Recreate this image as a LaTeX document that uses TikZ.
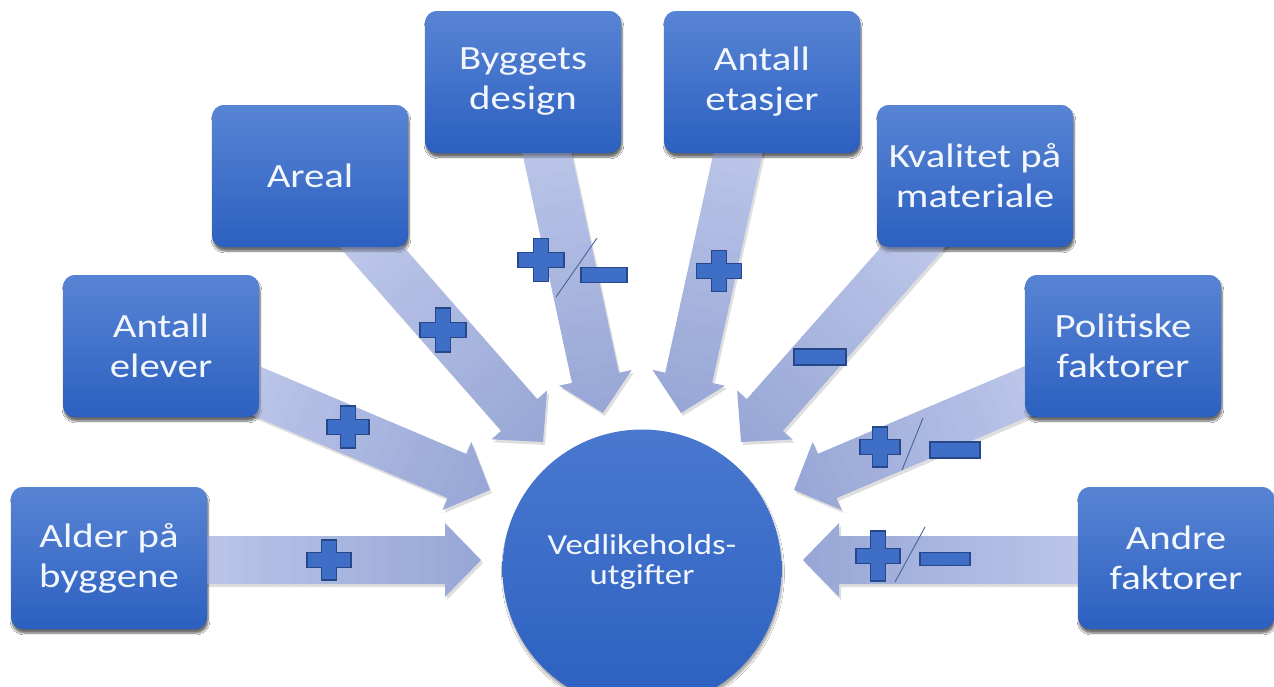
\documentclass[tikz,border=0pt]{standalone}
\usepackage{fontspec}
\setmainfont{Carlito}[FakeStretch=1.2]
\usetikzlibrary{calc,shadows.blur}

\definecolor{boxtop}{RGB}{88,132,212}
\definecolor{boxbot}{RGB}{44,96,192}
\definecolor{hubtop}{RGB}{74,120,207}
\definecolor{hubbot}{RGB}{44,96,192}
\definecolor{arrlight}{RGB}{190,200,234}
\definecolor{arrdark}{RGB}{150,165,213}
\definecolor{signfill}{RGB}{62,110,198}
\definecolor{signline}{RGB}{38,72,138}
\definecolor{txt}{RGB}{242,246,253}

\tikzset{
  factor/.style={rectangle, rounded corners=12pt, minimum width=196pt,
    minimum height=142pt, inner sep=0pt, top color=boxtop, bottom color=boxbot,
    text=txt, align=center, font=\fontsize{34}{40}\selectfont,
    blur shadow={shadow xshift=1pt, shadow yshift=-4pt, shadow blur steps=6, shadow opacity=35}},
  hub/.style={circle, minimum size=279pt, inner sep=0pt, top color=hubtop,
    bottom color=hubbot,
    blur shadow={shadow xshift=1pt, shadow yshift=-4pt, shadow blur steps=6, shadow opacity=35}},
  hubtext/.style={text=txt, align=center, font=\fontsize{29}{30}\selectfont},
  signshape/.style={fill=signfill, draw=signline, line width=1.2pt},
  slash/.style={draw=signline!85, line width=0.9pt}
}

% wide block arrow from a start coordinate to a tip coordinate,
% shaded from light (start) to darker (tip)
\newcommand\flowarrow[2]{%
  \path let \p1=(#1), \p2=(#2) in
    \pgfextra{%
      \pgfmathsetmacro\tmpang{atan2(\y2-\y1,\x2-\x1)}%
      \pgfmathsetmacro\tmplen{veclen(\x2-\x1,\y2-\y1)}%
      \xdef\arrang{\tmpang}\xdef\arrlen{\tmplen}};
  \begin{scope}[shift={($(#1)+(2,3)$)}, rotate=\arrang, x=1pt, y=1pt]
    \fill[black, opacity=0.13] (-40,-24) -- (\arrlen-36,-24) -- (\arrlen-36,-37)
      -- (\arrlen,0) -- (\arrlen-36,37) -- (\arrlen-36,24) -- (-40,24) -- cycle;
  \end{scope}
  \begin{scope}[shift={(#1)}, rotate=\arrang, x=1pt, y=1pt]
    \clip (-40,-24) -- (\arrlen-36,-24) -- (\arrlen-36,-37)
      -- (\arrlen,0) -- (\arrlen-36,37) -- (\arrlen-36,24) -- (-40,24) -- cycle;
    \foreach \i in {0,...,19}{%
      \pgfmathsetmacro\pct{100-\i*5}%
      \pgfmathsetmacro\xa{-40+(\arrlen+40)*\i/20}%
      \pgfmathsetmacro\xb{-40+(\arrlen+40)*(\i+1)/20+0.8}%
      \fill[arrlight!\pct!arrdark] (\xa,-40) rectangle (\xb,40);
    }
  \end{scope}}

% plus sign: centre, width, height
\newcommand\plusmark[3]{%
  \draw[signshape, shift={(#1)}]
    (-7.5,-#3/2) -- (7.5,-#3/2) -- (7.5,-7.5) -- (#2/2,-7.5) -- (#2/2,7.5)
    -- (7.5,7.5) -- (7.5,#3/2) -- (-7.5,#3/2) -- (-7.5,7.5) -- (-#2/2,7.5)
    -- (-#2/2,-7.5) -- (-7.5,-7.5) -- cycle;}
% minus sign: centre, width, height
\newcommand\minusmark[3]{%
  \draw[signshape, shift={(#1)}] (-#2/2,-#3/2) rectangle (#2/2,#3/2);}

\begin{document}
\begin{tikzpicture}[x=1pt, y=-1pt]
  \useasboundingbox (0,0) rectangle (1274,686);
  \clip (0,0) rectangle (1274,686);
  \fill[white] (0,0) rectangle (1274,686);

  % factor boxes (placed first so the arrows can refer to them)
  \path
    (109,558)  node[factor] (alder)    {Alder på\\byggene}
    (161,346)  node[factor] (elever)   {Antall\\elever}
    (310,176)  node[factor] (areal)    {Areal}
    (523,82)   node[factor] (design)   {Byggets\\design}
    (762,82)   node[factor] (etasjer)  {Antall\\etasjer}
    (975,176)  node[factor] (kvalitet) {Kvalitet på\\materiale}
    (1123,346) node[factor] (politikk) {Politiske\\faktorer}
    (1176,558) node[factor] (andre)    {Andre\\faktorer};

  % arrow start points on the boxes and tips near the hub
  \coordinate (s1) at ($(alder.east)+(0,2)$);
  \coordinate (s2) at ($(elever.south east)+(0,-25)$);
  \coordinate (s3) at ($(areal.south)+(62,0)$);
  \coordinate (s4) at ($(design.south)+(24,0)$);
  \coordinate (s5) at ($(etasjer.south)+(-24,0)$);
  \coordinate (s6) at ($(kvalitet.south)+(-62,0)$);
  \coordinate (s7) at ($(politikk.south west)+(0,-25)$);
  \coordinate (s8) at ($(andre.west)+(0,2)$);
  \coordinate (t1) at (481,560);
  \coordinate (t2) at (490,490);
  \coordinate (t3) at (543,442);
  \coordinate (t4) at (603,413);
  \coordinate (t5) at (681,413);
  \coordinate (t6) at (741,442);
  \coordinate (t7) at (794,490);
  \coordinate (t8) at (803,560);

  \flowarrow{s1}{t1}
  \flowarrow{s2}{t2}
  \flowarrow{s3}{t3}
  \flowarrow{s4}{t4}
  \flowarrow{s5}{t5}
  \flowarrow{s6}{t6}
  \flowarrow{s7}{t7}
  \flowarrow{s8}{t8}

  % boxes again on top of the arrow tails
  \path
    (109,558)  node[factor] {Alder på\\byggene}
    (161,346)  node[factor] {Antall\\elever}
    (310,176)  node[factor] {Areal}
    (523,82)   node[factor] {Byggets\\design}
    (762,82)   node[factor] {Antall\\etasjer}
    (975,176)  node[factor] {Kvalitet på\\materiale}
    (1123,346) node[factor] {Politiske\\faktorer}
    (1176,558) node[factor] {Andre\\faktorer};

  % central hub
  \node[hub] (cost) at (642,569) {};
  \node[hubtext] (costlabel) at ($(cost.center)+(0,-7)$) {Vedlikeholds-\\utgifter};

  % effect signs on the arrows
  \plusmark{329,560}{44}{40}
  \plusmark{348,427}{42}{42}
  \plusmark{443,330}{46}{44}
  \plusmark{541,260}{46}{43}
  \draw[slash] (597,238) -- (556,297);
  \minusmark{604,275}{46}{15}
  \plusmark{719,271}{45}{41}
  \minusmark{820,357}{52}{16}
  \plusmark{880,447}{40}{40}
  \draw[slash] (923,418) -- (902,470);
  \minusmark{955,450}{50}{16}
  \plusmark{878,556}{44}{50}
  \draw[slash] (925,527) -- (895,582);
  \minusmark{945,559}{50}{13}
\end{tikzpicture}
\end{document}
